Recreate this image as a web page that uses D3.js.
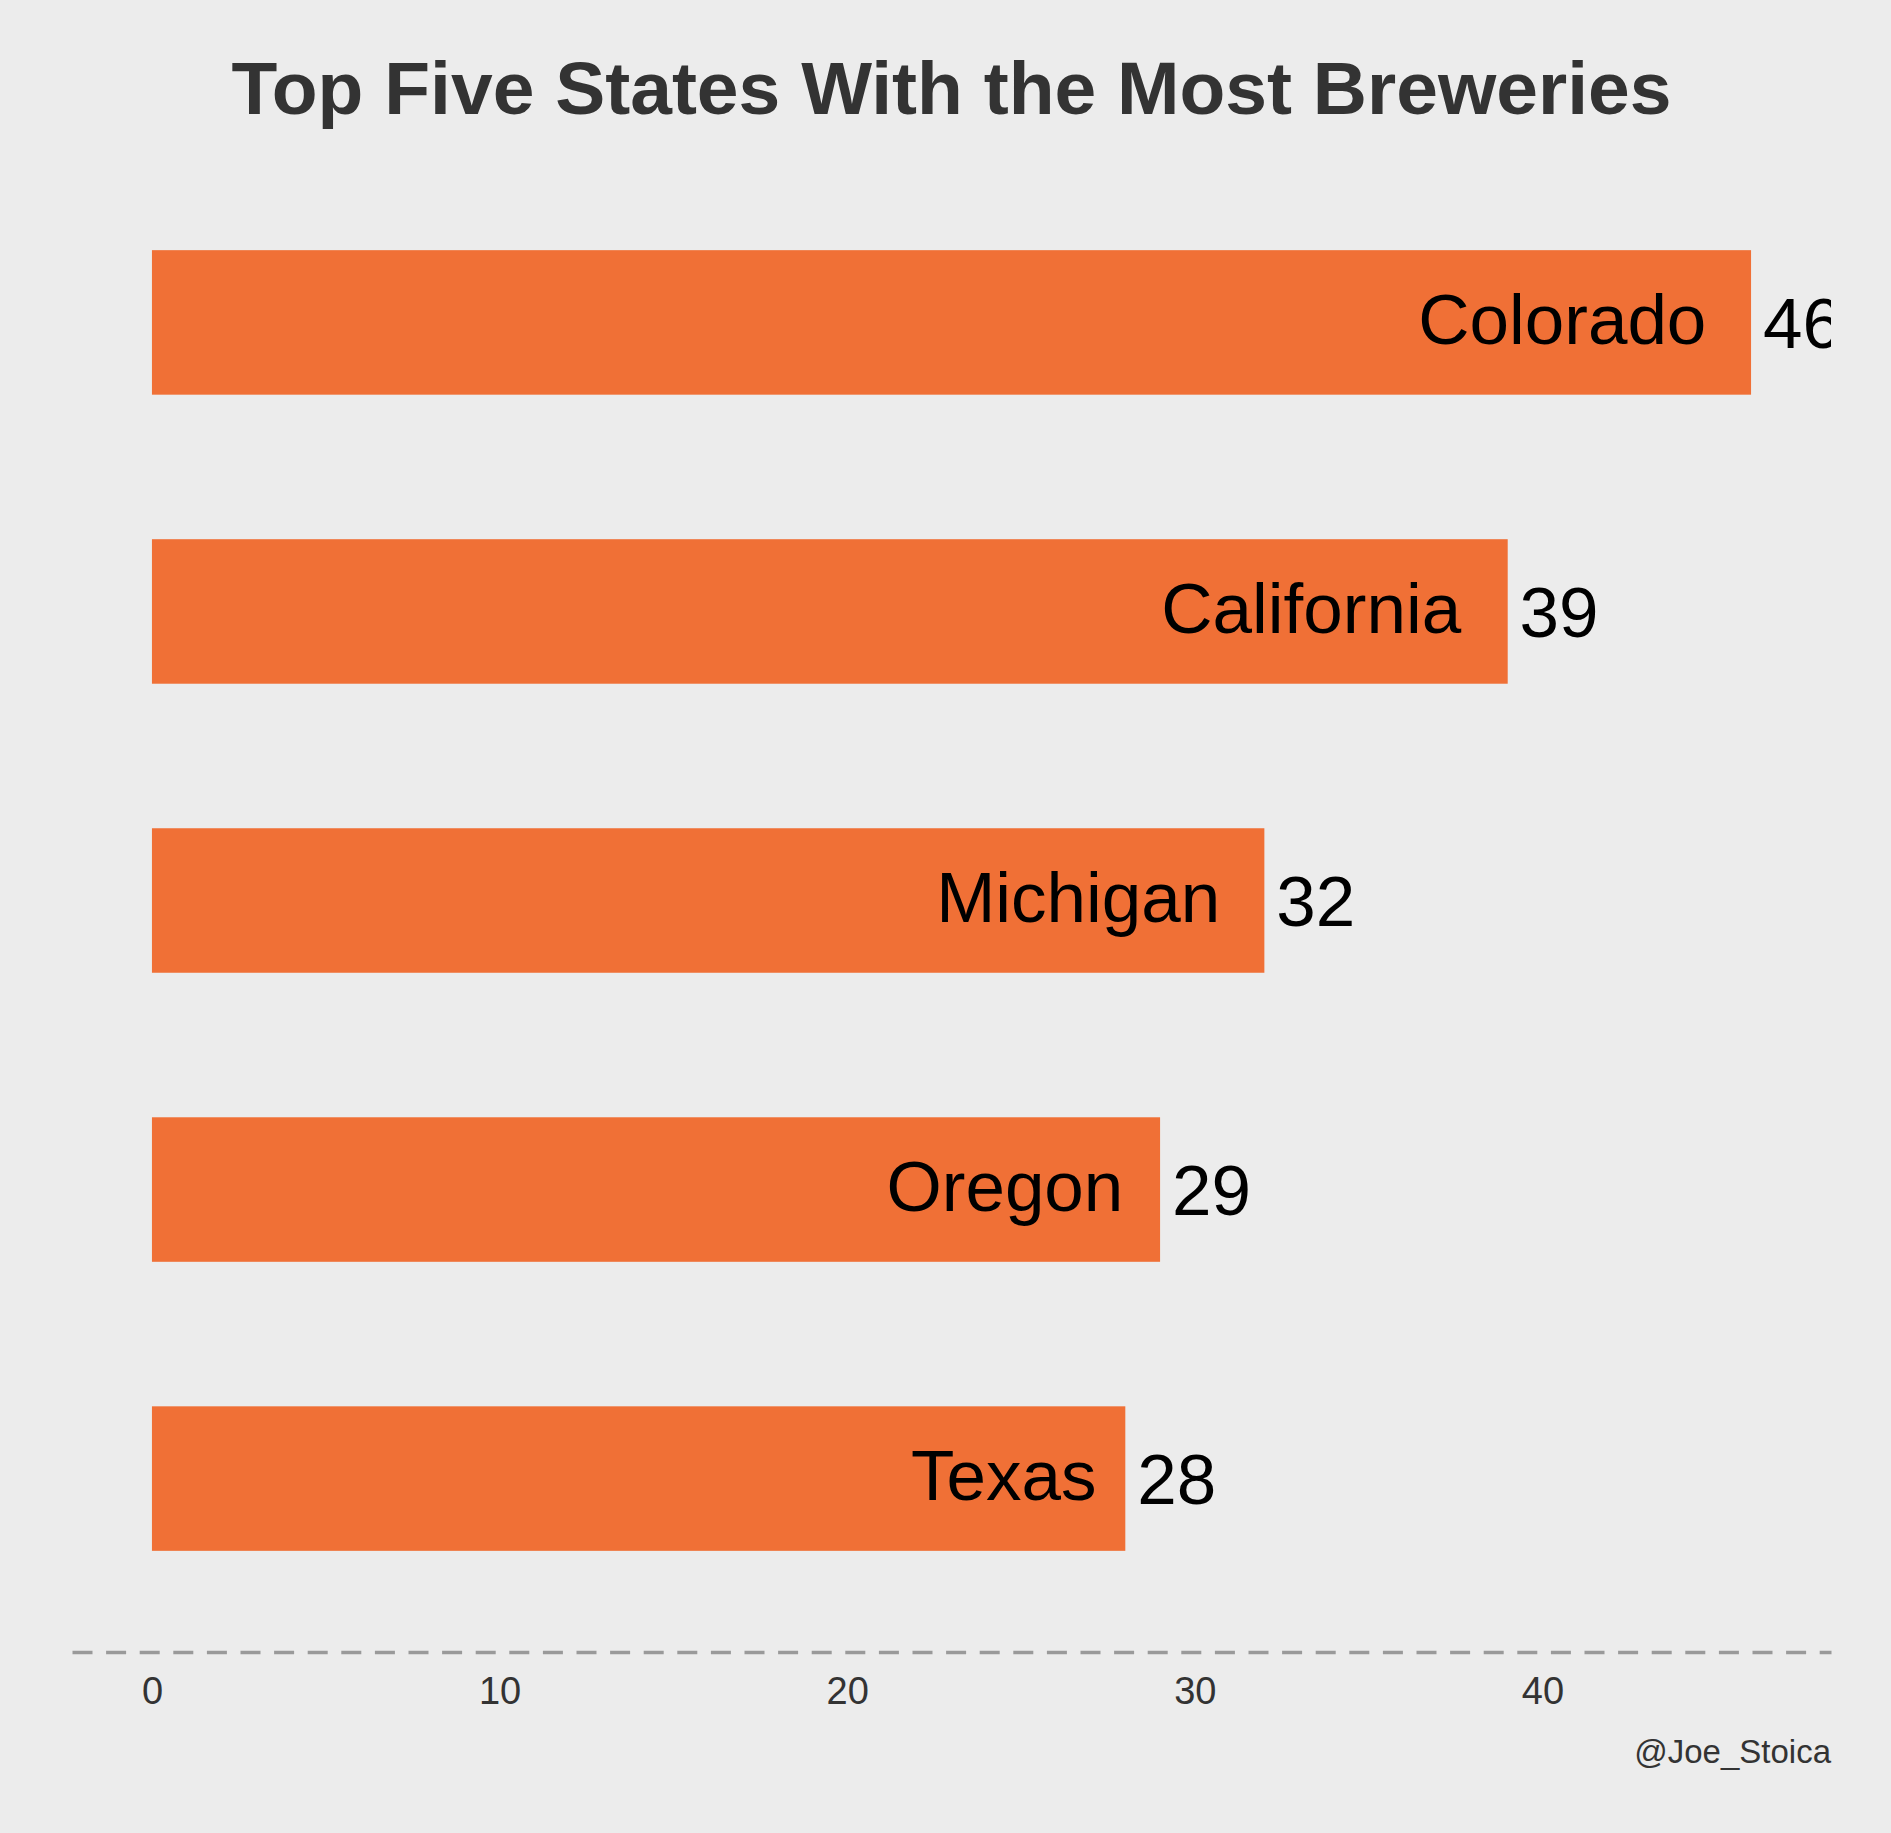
<!DOCTYPE html>
<html>
<head>
<meta charset="utf-8">
<script src="https://cdn.jsdelivr.net/npm/d3@7"></script>
<style>
  html, body { margin: 0; padding: 0; background: #ececec; }
  svg { display: block; }
  text { font-family: "Liberation Sans", Arial, Helvetica, sans-serif; }
</style>
</head>
<body>
<script>
const states = ["Colorado", "California", "Michigan", "Oregon", "Texas"];
const breweries = [46, 39, 32, 29, 28];
const tickValues = [0, 10, 20, 30, 40];
const titleText = "Top Five States With the Most Breweries";
const captionText = "@Joe_Stoica";

const W = 1891, H = 1833;
const panel = { left: 72, right: 1831, top: 149, bottom: 1652 };
const barColor = "#f07036";

const data = states.map((s, i) => ({ state: s, value: breweries[i] }));

const svg = d3.select("body").append("svg").attr("width", W).attr("height", H);
svg.append("rect").attr("width", W).attr("height", H).attr("fill", "#ececec");

const maxV = d3.max(breweries);
const pad = maxV * 0.05;
const x = d3.scaleLinear().domain([-pad, maxV + pad]).range([panel.left, panel.right]);
const y = d3.scaleBand().domain(states).range([panel.top, panel.bottom])
  .paddingInner(0.5).paddingOuter(0.35);

svg.append("defs").append("clipPath").attr("id", "panelClip")
  .append("rect").attr("x", panel.left).attr("y", panel.top)
  .attr("width", panel.right - panel.left).attr("height", panel.bottom - panel.top);

// Title
svg.append("text")
  .attr("x", (panel.left + panel.right) / 2)
  .attr("y", 114)
  .attr("text-anchor", "middle")
  .attr("font-size", 75)
  .attr("font-weight", "bold")
  .attr("fill", "#333333")
  .text(titleText);

const g = svg.append("g").attr("clip-path", "url(#panelClip)");

g.selectAll("rect.bar").data(data).enter().append("rect")
  .attr("class", "bar")
  .attr("x", x(0))
  .attr("y", d => y(d.state))
  .attr("width", d => x(d.value) - x(0))
  .attr("height", y.bandwidth())
  .attr("fill", barColor);

const fs = 71;
const cap = 0.716 * fs;

// State name labels inside bars (hjust ~1.16)
g.selectAll("text.name").data(data).enter().append("text")
  .attr("class", "name")
  .attr("font-size", fs)
  .attr("fill", "#000")
  .attr("y", d => y(d.state) + y.bandwidth() / 2 + cap / 2 - 4)
  .text(d => d.state)
  .each(function(d) {
    const w = this.getComputedTextLength();
    d3.select(this).attr("x", x(d.value) - w * 1.155);
  });

// Value labels outside bars
g.selectAll("text.val").data(data).enter().append("text")
  .attr("class", "val")
  .attr("font-size", fs)
  .attr("fill", "#000")
  .attr("y", d => y(d.state) + y.bandwidth() / 2 + cap / 2)
  .text(d => d.value)
  .each(function(d) {
    const w = this.getComputedTextLength();
    d3.select(this).attr("x", x(d.value) + w * 0.15);
  });

// X axis
const axis = d3.axisBottom(x).tickValues(tickValues).tickSize(0).tickPadding(25);
const ax = svg.append("g").attr("transform", `translate(0,${panel.bottom})`).call(axis);
ax.select(".domain")
  .attr("stroke", "#9a9a9a")
  .attr("stroke-width", 3.4)
  .attr("stroke-dasharray", "20 13.6");
ax.selectAll(".tick text")
  .attr("font-size", 38)
  .attr("fill", "#333333")
  .style("font-family", '"Liberation Sans", Arial, Helvetica, sans-serif');

// Caption
svg.append("text")
  .attr("x", panel.right)
  .attr("y", 1763)
  .attr("text-anchor", "end")
  .attr("font-size", 33)
  .attr("fill", "#333333")
  .text(captionText);
</script>
</body>
</html>
